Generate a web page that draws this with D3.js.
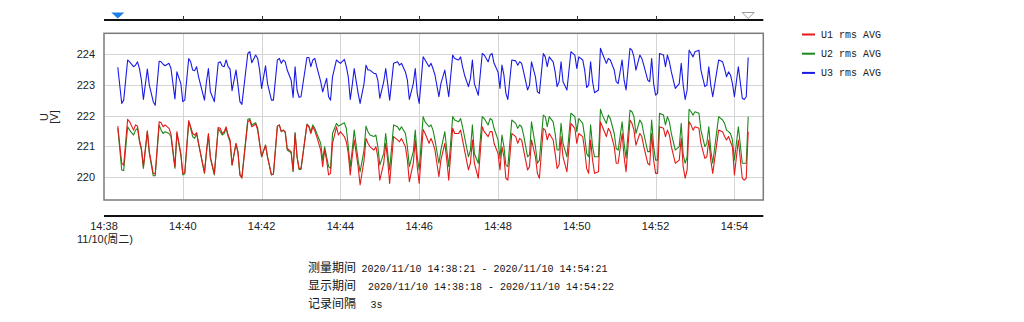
<!DOCTYPE html>
<html>
<head>
<meta charset="utf-8">
<script src="https://cdn.jsdelivr.net/npm/d3@7"></script>
<style>
  html, body { margin: 0; padding: 0; background: #fff; }
  svg { display: block; }
</style>
</head>
<body>
<svg id="chart" width="1024" height="322"></svg>
<script>
// Recording: 3 s interval starting at 14:38:21; sample index n -> start + 3n seconds
const startTime = new Date(2020, 10, 10, 14, 38, 21);
const intervalSec = 3;

const sampleIdx = [
  0,2,3,5,6,8,9,10,11,12,13,15,16,18,19,21,22,23,24,26,27,29,30,32,33,34,36,37,38,39,40,41,44,45,46,47,49,
  51,52,53,54,55,56,57,58,60,61,62,63,66,67,68,70,71,72,73,75,76,78,79,81,82,83,84,85,86,88,89,90,91,92,93,
  96,97,98,99,100,101,103,104,105,106,107,108,109,111,112,113,115,116,117,118,119,120,122,123,125,126,127,128,
  130,131,132,133,135,136,137,138,140,142,143,144,146,147,148,150,151,152,153,155,156,158,159,160,161,163,164,
  166,167,168,170,171,173,174,175,176,178,179,180,181,183,185,186,188,189,190,191,193,194,195,196,197,198,
  200,202,203,204,205,206,208,209,210,212,213,214,216,217,218,219,221,222,223,224,225,226,228,230,232,233,234,
  236,237,238,239,240,241,242,244,245,246,248,249,250,252,253,254,256,257,258,260,261,262,263,265,266,267,269,
  270,271,272,273,274,275,277,278,279,280,281,283,285,286,287,288,289,290,291,292,293,295,296,298,299,300,301,
  302,305,307,308,309,310,311,312,313,315,317,318,319,320
];

// U3 rms AVG (blue)
const u3 = [
  223.58,222.40,222.51,223.82,223.76,223.60,223.65,223.76,223.54,223.16,222.53,223.52,223.00,222.46,222.34,223.78,223.76,223.68,223.63,223.71,223.54,222.55,223.43,223.05,222.46,222.51,223.87,223.76,223.49,223.47,223.60,223.27,222.51,223.11,223.54,222.78,222.46,
  223.73,223.76,223.62,223.60,223.82,223.60,223.52,222.82,223.49,223.00,222.46,222.37,224.03,224.09,223.73,223.98,223.87,223.49,222.89,223.63,223.05,222.51,222.51,223.82,223.87,223.71,223.82,223.76,223.49,223.16,222.60,223.60,222.84,222.60,222.62,
  223.90,223.90,223.60,223.82,223.87,223.60,223.11,222.78,223.00,223.22,222.62,222.51,223.27,223.82,223.76,223.71,223.84,223.60,223.27,222.53,223.00,223.54,222.73,222.40,223.05,223.65,223.49,223.49,
  223.38,223.38,223.16,222.57,223.11,223.54,223.05,222.51,223.71,223.76,223.65,223.71,223.43,223.16,222.53,223.05,223.54,222.73,222.40,223.92,223.82,223.60,223.71,223.54,223.33,222.62,223.05,
  223.49,223.05,222.62,223.98,223.87,223.82,223.92,223.60,223.33,222.95,223.22,223.82,223.05,222.67,224.03,223.98,223.76,223.98,224.03,223.71,223.43,222.89,223.65,223.33,222.73,222.53,
  223.82,223.79,223.65,223.76,223.71,223.43,222.84,223.00,223.76,223.27,222.78,222.73,224.03,223.92,223.60,223.92,223.76,223.43,222.95,223.11,223.76,223.11,222.84,224.09,223.98,223.54,223.92,
  223.82,223.49,222.92,223.00,223.76,223.11,222.75,222.84,224.20,224.03,223.71,223.87,223.82,223.49,223.11,223.05,223.82,223.16,222.84,224.20,224.14,223.92,223.49,223.98,223.87,223.65,223.16,
  223.11,223.87,223.05,222.67,222.73,224.03,223.98,223.60,223.98,223.76,223.43,222.89,223.05,223.71,223.00,222.53,222.84,224.14,224.03,223.92,224.09,224.14,223.49,222.95,223.00,223.60,223.00,
  222.62,223.82,223.76,223.54,223.27,223.43,223.33,223.05,222.62,223.60,222.57,222.53,222.62,223.90
];

// U1 rms AVG (red)
const u1 = [
  221.66,220.45,220.39,221.88,221.80,221.53,221.70,221.66,221.21,220.93,220.34,221.51,220.83,220.12,220.10,221.80,221.77,221.64,221.70,221.59,221.40,220.34,221.48,220.77,220.12,220.14,221.84,221.64,221.42,221.37,221.45,221.10,220.14,220.83,221.42,220.66,220.10,
  221.62,221.59,221.42,221.48,221.64,221.37,221.21,220.39,221.10,220.83,220.07,219.96,221.80,221.86,221.64,221.73,221.53,221.10,220.66,221.04,220.66,220.07,220.10,221.66,221.70,221.48,221.53,221.48,220.93,220.83,220.20,221.42,220.66,220.28,220.28,
  221.70,221.64,221.42,221.64,221.51,221.32,220.88,220.34,220.88,220.55,220.07,220.12,221.10,221.64,221.37,221.48,221.32,221.15,220.77,220.07,220.66,221.21,220.34,219.74,220.55,221.26,221.10,220.99,
  220.88,220.99,220.66,219.90,220.45,221.10,220.55,219.79,221.32,221.21,221.15,221.26,220.99,220.55,219.85,220.45,221.21,220.34,219.79,221.55,221.42,221.10,221.26,221.10,220.88,220.01,220.55,
  221.10,220.55,219.90,221.59,221.42,221.42,221.53,221.21,220.88,220.23,220.45,221.21,220.45,219.96,221.64,221.48,221.32,221.48,221.48,221.10,220.77,220.23,220.99,220.66,219.96,219.90,
  221.42,221.32,221.10,221.26,221.21,220.88,220.23,220.34,221.21,220.66,220.12,219.96,221.59,221.53,221.21,221.42,221.21,220.77,220.28,220.39,221.32,220.66,220.17,221.75,221.59,221.10,221.42,
  221.32,220.88,220.28,220.12,221.21,220.55,220.12,220.17,221.80,221.64,221.32,221.59,221.48,220.99,220.45,220.45,221.42,220.66,220.17,221.86,221.75,221.53,221.04,221.42,221.32,220.99,220.45,
  220.39,221.42,220.55,220.12,220.12,221.64,221.59,221.32,221.53,221.37,220.99,220.45,220.55,221.26,220.34,219.96,220.23,221.80,221.70,221.53,221.64,221.59,221.10,220.61,220.66,221.21,220.55,
  220.12,221.53,221.48,221.32,221.21,221.32,221.15,220.99,220.07,221.21,219.96,219.90,219.96,221.48
];

// U2 rms AVG (green)
const u2 = [
  221.59,220.23,220.21,221.64,221.53,221.37,221.53,221.59,221.15,220.88,220.28,221.48,220.77,220.04,220.04,221.70,221.53,221.42,221.48,221.42,221.32,220.28,221.42,220.72,220.07,220.10,221.80,221.59,221.32,221.26,221.42,221.08,220.12,220.79,221.37,220.61,220.07,
  221.59,221.48,221.37,221.42,221.59,221.32,221.15,220.39,221.08,220.79,220.07,220.01,221.88,221.91,221.70,221.77,221.59,221.10,220.66,221.04,220.66,220.07,220.10,221.66,221.70,221.48,221.53,221.45,220.88,220.79,220.17,221.45,220.66,220.25,220.25,
  221.73,221.66,221.48,221.70,221.59,221.42,221.10,220.55,220.99,220.66,220.34,220.28,221.42,221.75,221.66,221.70,221.77,221.59,220.99,220.34,220.88,221.53,220.55,220.17,220.88,221.66,221.48,221.37,
  221.32,221.37,220.99,220.39,220.77,221.42,220.77,220.23,221.70,221.64,221.53,221.64,221.42,220.99,220.34,220.83,221.53,220.66,220.23,221.97,221.80,221.64,221.70,221.53,221.21,220.45,220.88,
  221.48,220.88,220.34,221.97,221.86,221.80,221.91,221.64,221.32,220.66,220.88,221.70,220.77,220.45,221.97,221.91,221.70,221.91,221.86,221.59,221.21,220.61,221.37,220.99,220.39,220.34,
  221.86,221.75,221.59,221.70,221.64,221.37,220.66,220.72,221.80,220.99,220.45,220.55,222.02,221.97,221.64,221.97,221.80,221.42,220.88,220.88,221.75,221.10,220.66,222.08,221.97,221.48,221.91,
  221.75,221.32,220.77,220.66,221.70,220.99,220.66,220.66,222.21,222.02,221.75,222.02,221.91,221.42,220.93,220.88,221.80,221.10,220.61,222.18,222.13,221.97,221.42,221.86,221.75,221.42,220.83,
  220.83,221.86,220.99,220.55,220.55,222.08,222.02,221.70,221.97,221.80,221.42,220.88,220.99,221.75,220.72,220.45,220.66,222.21,222.13,222.02,222.13,222.08,221.53,220.99,221.10,221.64,220.88,
  220.45,221.97,221.86,221.75,221.53,221.48,221.42,221.21,220.55,221.64,220.45,220.45,220.45,221.97
];

const yTicks = [220, 221, 222, 223, 224];
const seriesNames = ["U1 rms AVG", "U2 rms AVG", "U3 rms AVG"];
const seriesColors = ["#e41a1a", "#1b8a1b", "#1a1ae6"];
const infoLabels = ["测量期间", "显示期间", "记录间隔"];
const infoValues = [
  "2020/11/10 14:38:21 - 2020/11/10 14:54:21",
  "2020/11/10 14:38:18 - 2020/11/10 14:54:22",
  "3s"
];
const dateLabel = "11/10(周二)";

const svg = d3.select("#chart");
const plot = { left: 104, right: 763.3, top: 33.3, bottom: 200 };

const tAt = n => new Date(startTime.getTime() + n * intervalSec * 1000);
const x = d3.scaleTime()
  .domain([new Date(2020, 10, 10, 14, 38, 0), new Date(2020, 10, 10, 14, 54, 44.6)])
  .range([plot.left, plot.right]);
const y = d3.scaleLinear().domain([219.25, 224.69]).range([plot.bottom, plot.top]);

const xTicks = d3.timeMinute.every(2).range(new Date(2020, 10, 10, 14, 38, 0), new Date(2020, 10, 10, 14, 55, 0));
const fmt = d3.timeFormat("%H:%M");

// grid
const grid = svg.append("g").attr("stroke", "#d4d4d4").attr("stroke-width", 1);
grid.selectAll("line.gx").data(xTicks.slice(1)).join("line")
  .attr("x1", d => Math.round(x(d)) + 0.5).attr("x2", d => Math.round(x(d)) + 0.5)
  .attr("y1", plot.top).attr("y2", plot.bottom);
grid.selectAll("line.gy").data(yTicks).join("line")
  .attr("x1", plot.left).attr("x2", plot.right)
  .attr("y1", d => Math.round(y(d)) + 0.5).attr("y2", d => Math.round(y(d)) + 0.5);

// series
svg.append("defs").append("clipPath").attr("id", "clip").append("rect")
  .attr("x", plot.left).attr("y", plot.top)
  .attr("width", plot.right - plot.left).attr("height", plot.bottom - plot.top);

const seriesData = [u1, u2, u3];
const drawOrder = [2, 1, 0];
const line = d3.line().x(d => x(d[0])).y(d => y(d[1]));
const lines = svg.append("g").attr("clip-path", "url(#clip)");
drawOrder.forEach(k => {
  const pts = sampleIdx.map((n, i) => [tAt(n), seriesData[k][i]]);
  lines.append("path").datum(pts)
    .attr("fill", "none")
    .attr("stroke", seriesColors[k])
    .attr("stroke-width", 1.1)
    .attr("stroke-linejoin", "round")
    .attr("d", line);
});

// frame
svg.append("rect")
  .attr("x", plot.left).attr("y", plot.top)
  .attr("width", plot.right - plot.left).attr("height", plot.bottom - plot.top)
  .attr("fill", "none").attr("stroke", "#7a7a7a").attr("stroke-width", 1.5);

// y axis labels
svg.append("g").selectAll("text").data(yTicks).join("text")
  .attr("x", 95).attr("y", d => y(d) + 4)
  .attr("text-anchor", "end")
  .attr("font-family", "Liberation Sans, Arial, sans-serif")
  .attr("font-size", 11).attr("fill", "#222")
  .text(d => d);

const yTitle = svg.append("text")
  .attr("transform", "translate(48,117) rotate(-90)")
  .attr("text-anchor", "middle")
  .attr("font-family", "Liberation Sans, Arial, sans-serif")
  .attr("font-size", 11).attr("fill", "#222");
yTitle.append("tspan").attr("x", 0).attr("dy", 0).text("U");
yTitle.append("tspan").attr("x", 0).attr("dy", 10).text("[V]");

// time axes (top slider bar and bottom bar)
svg.append("line").attr("x1", plot.left).attr("x2", plot.right).attr("y1", 20).attr("y2", 20)
  .attr("stroke", "#111").attr("stroke-width", 2);
svg.append("g").selectAll("line").data(xTicks.slice(1)).join("line")
  .attr("x1", d => Math.round(x(d)) + 0.5).attr("x2", d => Math.round(x(d)) + 0.5)
  .attr("y1", 16).attr("y2", 20).attr("stroke", "#333").attr("stroke-width", 1);
svg.append("line").attr("x1", plot.left).attr("x2", plot.right).attr("y1", 216).attr("y2", 216)
  .attr("stroke", "#111").attr("stroke-width", 2);

// range markers on the top bar
const mStart = x(new Date(2020, 10, 10, 14, 38, 21));
const mEnd = x(new Date(2020, 10, 10, 14, 54, 21));
svg.append("path")
  .attr("d", `M${mStart - 6.5},12.5 L${mStart + 6.5},12.5 L${mStart},18.5 Z`)
  .attr("fill", "#1e7fe6");
svg.append("path")
  .attr("d", `M${mEnd - 6},12.5 L${mEnd + 6},12.5 L${mEnd},18.5 Z`)
  .attr("fill", "#fff").attr("stroke", "#9a9a9a").attr("stroke-width", 1);

// x labels
svg.append("g").selectAll("text").data(xTicks).join("text")
  .attr("x", d => x(d)).attr("y", 230)
  .attr("text-anchor", "middle")
  .attr("font-family", "Liberation Sans, Arial, sans-serif")
  .attr("font-size", 11).attr("fill", "#222")
  .text(d => fmt(d));
svg.append("text")
  .attr("x", 105).attr("y", 243)
  .attr("text-anchor", "middle")
  .attr("font-family", "Liberation Sans, 'Noto Sans CJK SC', sans-serif")
  .attr("font-size", 11).attr("fill", "#222")
  .text(dateLabel);

// legend
const legend = svg.append("g");
seriesNames.forEach((name, i) => {
  const ly = 34.5 + i * 19.2;
  legend.append("line").attr("x1", 802).attr("x2", 815).attr("y1", ly).attr("y2", ly)
    .attr("stroke", seriesColors[i]).attr("stroke-width", 2);
  legend.append("text").attr("x", 821).attr("y", ly + 3.5)
    .attr("font-family", "Liberation Mono, monospace")
    .attr("font-size", 10).attr("fill", "#222")
    .text(name);
});

// recording info
const infoX = [361.5, 368, 370.5];
infoLabels.forEach((lab, i) => {
  const by = 271.5 + i * 18.2;
  svg.append("text").attr("x", 308).attr("y", by)
    .attr("font-family", "'Noto Sans CJK SC', sans-serif")
    .attr("font-size", 12).attr("fill", "#111")
    .text(lab);
  svg.append("text").attr("x", infoX[i]).attr("y", by)
    .attr("font-family", "Liberation Mono, monospace")
    .attr("font-size", 10).attr("fill", "#111")
    .text(infoValues[i]);
});
</script>
</body>
</html>
